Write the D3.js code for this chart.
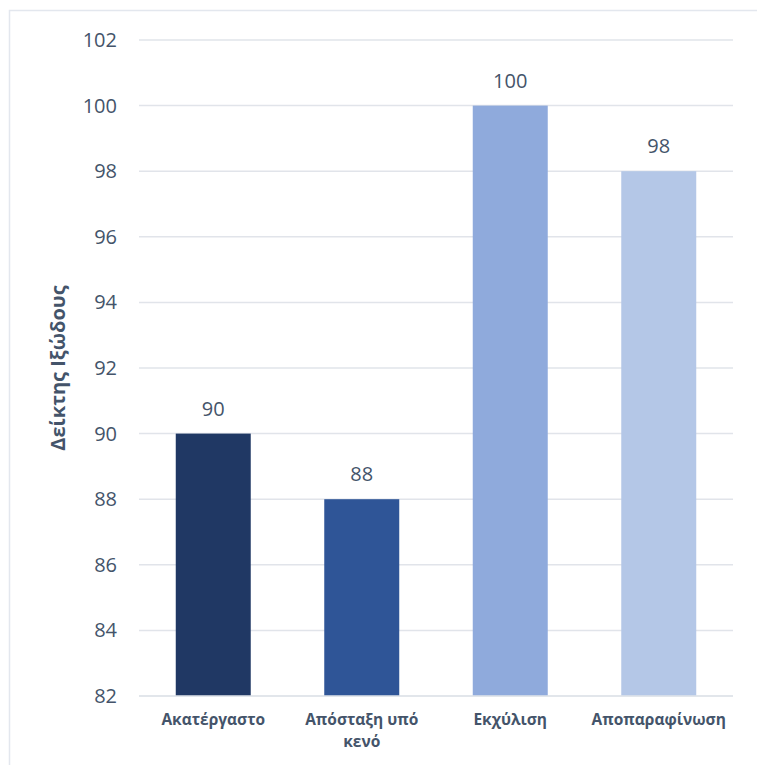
<!DOCTYPE html>
<html>
<head>
<meta charset="utf-8">
<script src="https://cdn.jsdelivr.net/npm/d3@7"></script>
<style>
  html, body { margin: 0; padding: 0; background: #fff; }
  svg { display: block; }
</style>
</head>
<body>
<svg id="chart" width="757" height="765"></svg>
<script>
// Viscosity index per processing stage
const categories = ["Ακατέργαστο", "Απόσταξη υπό κενό", "Εκχύλιση", "Αποπαραφίνωση"];
const values = [90, 88, 100, 98];
const barColors = ["#203864", "#2F5597", "#8FAADC", "#B4C7E7"];
const yTicks = [82, 84, 86, 88, 90, 92, 94, 96, 98, 100, 102];
const yTitle = "Δείκτης Ιξώδους";

const svg = d3.select("#chart");
const textColor = "#44546A";
const gridColor = "#E1E4EA";
const font = "'Open Sans', 'DejaVu Sans', sans-serif";

// outer chart frame (extends past the window on right and bottom)
svg.append("rect")
  .attr("x", 9.5).attr("y", 10.5)
  .attr("width", 800).attr("height", 800)
  .attr("fill", "none")
  .attr("stroke", "#E3E7EE")
  .attr("stroke-width", 1.5);

const plot = { left: 139, right: 733, top: 40, bottom: 696 };

const x = d3.scaleBand()
  .domain(categories)
  .range([plot.left, plot.right])
  .paddingInner(0.495)
  .paddingOuter(0.2475);

const y = d3.scaleLinear()
  .domain([82, 102])
  .range([plot.bottom, plot.top]);

// horizontal gridlines
svg.append("g")
  .selectAll("line")
  .data(yTicks)
  .join("line")
  .attr("x1", plot.left).attr("x2", plot.right)
  .attr("y1", d => y(d)).attr("y2", d => y(d))
  .attr("stroke", gridColor)
  .attr("stroke-width", 1.5);

// y axis tick labels
const yAxis = d3.axisLeft(y).tickValues(yTicks).tickSize(0).tickPadding(22);
const gy = svg.append("g")
  .attr("transform", `translate(${plot.left},0)`)
  .call(yAxis);
gy.select(".domain").remove();
gy.selectAll("text")
  .attr("fill", textColor)
  .style("font-family", font)
  .style("font-size", "20px");

// bars
svg.append("g")
  .selectAll("rect")
  .data(values)
  .join("rect")
  .attr("x", (d, i) => x(categories[i]))
  .attr("width", x.bandwidth())
  .attr("y", d => y(d))
  .attr("height", d => y(82) - y(d))
  .attr("fill", (d, i) => barColors[i]);

// baseline redrawn over bars
svg.append("line")
  .attr("x1", plot.left).attr("x2", plot.right)
  .attr("y1", y(82)).attr("y2", y(82))
  .attr("stroke", gridColor)
  .attr("stroke-width", 1.5);

// value labels
svg.append("g")
  .selectAll("text")
  .data(values)
  .join("text")
  .attr("x", (d, i) => x(categories[i]) + x.bandwidth() / 2)
  .attr("y", d => y(d) - 18)
  .attr("text-anchor", "middle")
  .attr("fill", textColor)
  .style("font-family", font)
  .style("font-size", "20px")
  .text(d => d);

// category labels, wrapped to the band width
const xAxis = d3.axisBottom(x).tickSize(0).tickPadding(18);
const gx = svg.append("g")
  .attr("transform", `translate(0,${plot.bottom})`)
  .call(xAxis);
gx.select(".domain").remove();
gx.selectAll("text")
  .attr("fill", textColor)
  .style("font-family", font)
  .style("font-size", "15.5px")
  .style("font-weight", "bold")
  .each(function() {
    const t = d3.select(this);
    const words = t.text().split(/\s+/);
    const maxW = x.step() * 0.84;
    const yAttr = t.attr("y");
    const dy = parseFloat(t.attr("dy"));
    t.text(null);
    let line = [];
    let lineNo = 0;
    let tspan = t.append("tspan").attr("x", 0).attr("y", yAttr).attr("dy", dy + "em");
    for (const w of words) {
      line.push(w);
      tspan.text(line.join(" "));
      if (tspan.node().getComputedTextLength() > maxW && line.length > 1) {
        line.pop();
        tspan.text(line.join(" "));
        line = [w];
        lineNo++;
        tspan = t.append("tspan").attr("x", 0).attr("y", yAttr)
          .attr("dy", (dy + lineNo * 1.42) + "em")
          .text(w);
      }
    }
  });

// y axis title
svg.append("text")
  .attr("transform", `translate(65,${(plot.top + plot.bottom) / 2}) rotate(-90)`)
  .attr("text-anchor", "middle")
  .attr("fill", textColor)
  .style("font-family", font)
  .style("font-size", "20px")
  .style("font-weight", "bold")
  .text(yTitle);
</script>
</body>
</html>
